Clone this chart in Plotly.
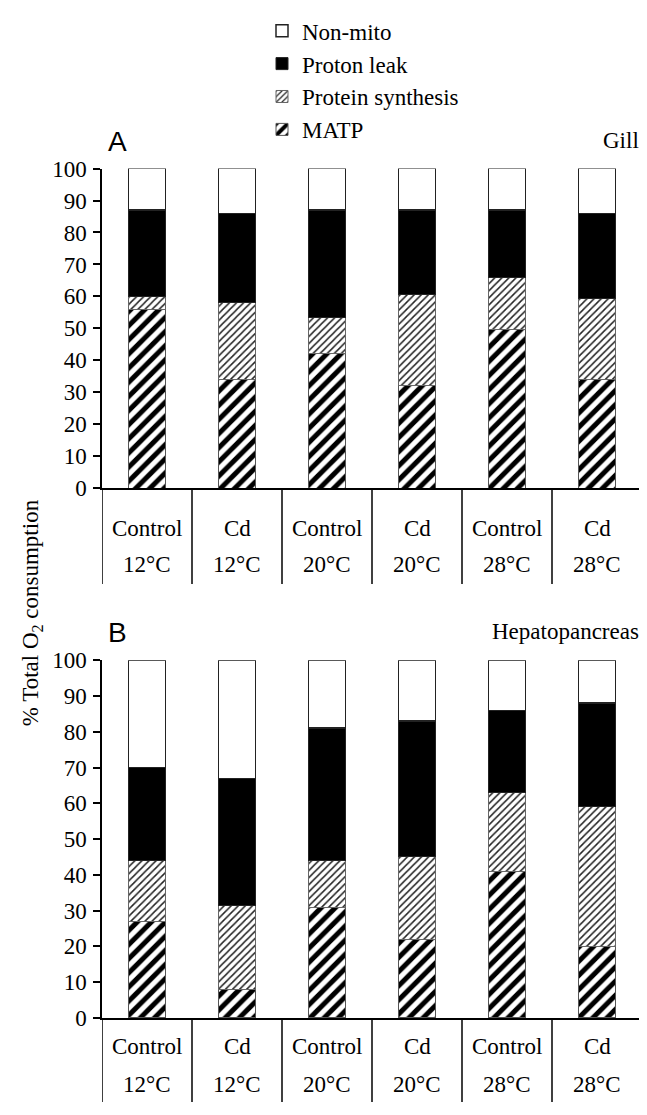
import plotly.graph_objects as go

# Page has an 8px body margin; figure is sized/positioned to compensate
OFF = 8
W, H = 647 - OFF, 1115 - OFF

groups = ["Control", "Cd", "Control", "Cd", "Control", "Cd"]
temps = ["12°C", "12°C", "20°C", "20°C", "28°C", "28°C"]
series = ["MATP", "Protein synthesis", "Proton leak", "Non-mito"]

# Panel A: Gill (% of total O2 consumption, stacked)
gill_matp = [56, 34, 42, 32, 49.5, 34]
gill_protein = [4, 24, 11.5, 28.5, 16.5, 25.5]
gill_leak = [27, 28, 33.5, 26.5, 21, 26.5]
gill_nonmito = [13, 14, 13, 13, 13, 14]

# Panel B: Hepatopancreas
hep_matp = [27, 8, 31, 22, 41, 20]
hep_protein = [17, 23.5, 13, 23, 22, 39]
hep_leak = [26, 35.5, 37, 38, 23, 29]
hep_nonmito = [30, 33, 19, 17, 14, 12]

y_ticks = [0, 10, 20, 30, 40, 50, 60, 70, 80, 90, 100]

SERIF = "Liberation Serif, Times New Roman, serif"
SANS = "Liberation Sans, Arial, sans-serif"
FS = 23

styles = {
    "MATP": dict(color="white", line=dict(color="#555", width=1),
                 pattern=dict(shape="/", size=10, solidity=0.5, fgcolor="black",
                              fgopacity=1, bgcolor="white", fillmode="replace")),
    "Protein synthesis": dict(color="white", line=dict(color="#666", width=1),
                              pattern=dict(shape="/", size=5, solidity=0.3, fgcolor="#222",
                                           fgopacity=1, bgcolor="white", fillmode="replace")),
    "Proton leak": dict(color="black", line=dict(color="#222", width=1)),
    "Non-mito": dict(color="white", line=dict(color="#222", width=1.5)),
}

def py(p):
    # true page pixel (from top) -> paper fraction
    return 1 - (p - OFF) / H

def pxx(p):
    return (p - OFF) / W

x_idx = list(range(len(groups)))

fig = go.Figure()

panels = [
    ("x", "y", [gill_matp, gill_protein, gill_leak, gill_nonmito], True),
    ("x2", "y2", [hep_matp, hep_protein, hep_leak, hep_nonmito], False),
]

for xa, ya, vals, show in panels:
    for name, v in zip(series, vals):
        fig.add_trace(go.Bar(
            x=x_idx, y=v, name=name, xaxis=xa, yaxis=ya,
            marker=styles[name], width=0.41, legendgroup=name, showlegend=show,
        ))

# Geometry (true page pixels)
ax_left = 102
cat_w = 90.0
A_top, A_bot = 160, 487
B_top, B_bot = 663, 1029
x_max = -0.5 + (647 - ax_left) / cat_w

axis_common = dict(showline=True, linecolor="black", linewidth=1.5, mirror=False,
                   showgrid=False, zeroline=False)
yax = dict(range=[0, 100], tickvals=y_ticks, ticks="outside", ticklen=7, tickwidth=1.5,
           tickcolor="black", ticklabelstandoff=2,
           tickfont=dict(family=SERIF, size=FS, color="black"), **axis_common)
xax = dict(domain=[pxx(ax_left), 1], range=[-0.5, x_max], showticklabels=False, ticks="",
           **axis_common)

fig.update_layout(
    width=W, height=H, barmode="stack",
    margin=dict(l=0, r=0, t=0, b=0),
    paper_bgcolor="white", plot_bgcolor="white",
    font=dict(family=SERIF, size=FS, color="black"),
    xaxis=dict(anchor="y", **xax),
    yaxis=dict(domain=[py(A_bot), py(A_top)], anchor="x", **yax),
    xaxis2=dict(anchor="y2", **xax),
    yaxis2=dict(domain=[py(B_bot), py(B_top)], anchor="x2", **yax),
    legend=dict(x=pxx(262), y=1 + 11 / H, xanchor="left", yanchor="top",
                traceorder="reversed", font=dict(family=SERIF, size=FS),
                itemwidth=30, tracegroupgap=0, bgcolor="rgba(0,0,0,0)"),
)

annotations = []
shapes = []

for xa, top, bot, sep_end, letter, title, lab1, lab2 in [
        ("x", A_top, A_bot, 585, "A", "Gill", 528, 565),
        ("x2", B_top, B_bot, 1115, "B", "Hepatopancreas", 1058, 1097)]:
    annotations.append(dict(text=letter, x=pxx(117), y=py(top - 28), xref="paper", yref="paper",
                            showarrow=False, font=dict(family=SANS, size=28),
                            xanchor="center", yanchor="middle"))
    annotations.append(dict(text=title, x=pxx(641), y=py(top - 29), xref="paper", yref="paper",
                            showarrow=False, font=dict(family=SERIF, size=FS),
                            xanchor="right", yanchor="middle"))
    for i, (g, t) in enumerate(zip(groups, temps)):
        annotations.append(dict(text=g, x=i, y=py(lab1), xref=xa, yref="paper", showarrow=False,
                                font=dict(family=SERIF, size=FS), yanchor="middle"))
        annotations.append(dict(text=t, x=i, y=py(lab2), xref=xa, yref="paper", showarrow=False,
                                font=dict(family=SERIF, size=FS), yanchor="middle"))
    for k in range(len(groups) + 1):
        shapes.append(dict(type="line", xref=xa, yref="paper", x0=k - 0.5, x1=k - 0.5,
                           y0=py(bot), y1=py(sep_end), line=dict(color="black", width=1.5)))

annotations.append(dict(text="% Total O<sub>2</sub> consumption", x=pxx(32), y=py(615),
                        xref="paper", yref="paper", showarrow=False, textangle=-90,
                        font=dict(family=SERIF, size=FS), xanchor="center", yanchor="middle"))

fig.update_layout(annotations=annotations, shapes=shapes)

fig.write_html("out.html")
